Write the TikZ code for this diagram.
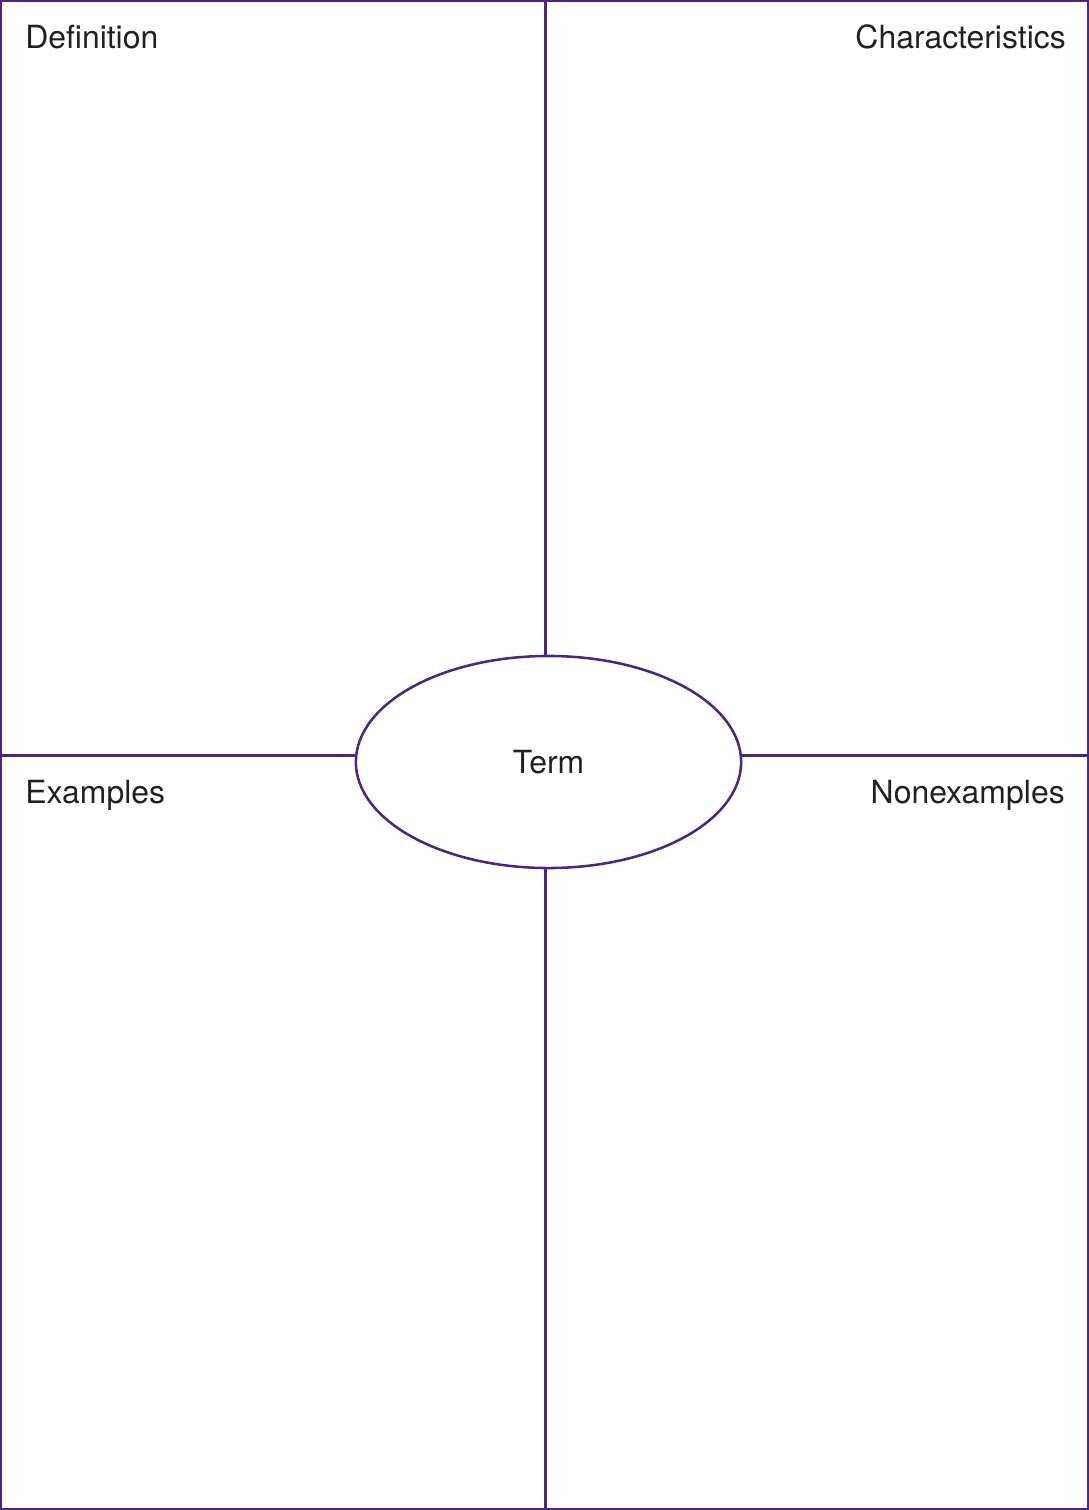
\documentclass[tikz,border=0pt]{standalone}
\usepackage{fontspec}
\setmainfont{TeX Gyre Heros}
\usepackage{xcolor}
\usepackage{tikz}
\usetikzlibrary{shapes.geometric}
\definecolor{frayer}{HTML}{4B2585}
\definecolor{ink}{HTML}{231F20}

\begin{document}
\begin{tikzpicture}[x=0.025cm,y=-0.025cm,
 frame/.style={draw=frayer,line width=1.8pt},
 termoval/.style={ellipse,draw=frayer,line width=1.8pt,fill=white,minimum width=9.63cm,minimum height=5.3cm,inner sep=0pt,text=ink},
 lbl/.style={inner sep=0pt,text=ink},font=\fontsize{22.7}{27}\selectfont]
\useasboundingbox (0,0) rectangle (1089,1510);
\draw[frame] (1,1) rectangle (1088,1509);
\node[termoval] (term) at (548.5,762) {Term};
% ends of the cross on the outer frame
\coordinate (top) at (545.5,1);
\coordinate (bottom) at (545.5,1509);
\coordinate (left) at (1,755.5);
\coordinate (right) at (1088,755.5);
\draw[frame] (top)--(top |- term.north);
\draw[frame] (bottom)--(bottom |- term.south);
\draw[frame] (left)--(left -| term.west);
\draw[frame] (right)--(right -| term.east);
\node[lbl,anchor=base west] (definition) at (25,49) {Definition};
\node[lbl,anchor=base east] (characteristics) at (1066,49) {Characteristics};
\node[lbl,anchor=base west] (examples) at (25,803) {Examples};
\node[lbl,anchor=base east] (nonexamples) at (1065,803) {Nonexamples};
\end{tikzpicture}
\end{document}
